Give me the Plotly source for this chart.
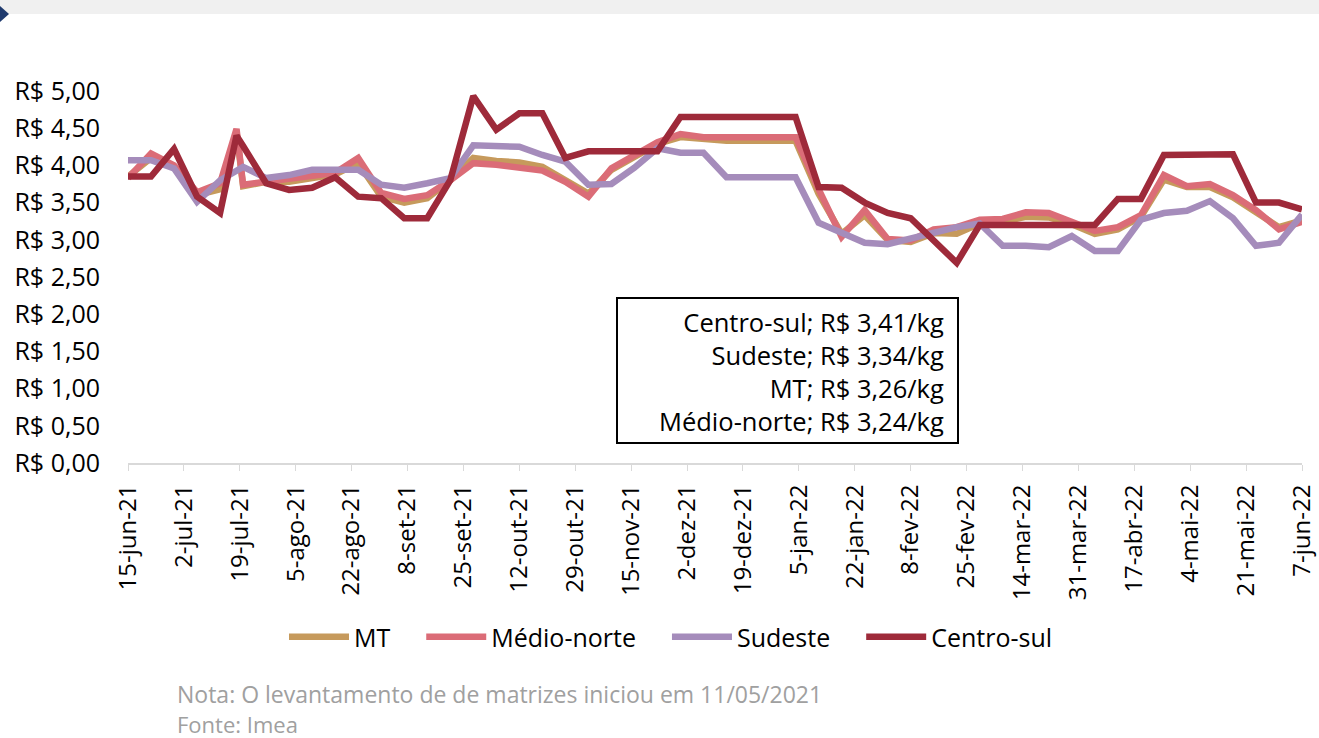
import plotly.graph_objects as go

dates = [
    "2021-06-15", "2021-06-22", "2021-06-29", "2021-07-06", "2021-07-13", "2021-07-18",
    "2021-07-20", "2021-07-27", "2021-08-03", "2021-08-10", "2021-08-17", "2021-08-24",
    "2021-08-31", "2021-09-07", "2021-09-14", "2021-09-21", "2021-09-28", "2021-10-05",
    "2021-10-12", "2021-10-19", "2021-10-26", "2021-11-02", "2021-11-09", "2021-11-16",
    "2021-11-23", "2021-11-30", "2021-12-07", "2021-12-14", "2021-12-21", "2021-12-28",
    "2022-01-04", "2022-01-11", "2022-01-18", "2022-01-25", "2022-02-01", "2022-02-08",
    "2022-02-15", "2022-02-22", "2022-03-01", "2022-03-08", "2022-03-15", "2022-03-22",
    "2022-03-29", "2022-04-05", "2022-04-12", "2022-04-19", "2022-04-26", "2022-05-03",
    "2022-05-10", "2022-05-17", "2022-05-24", "2022-05-31", "2022-06-07",
]

mt = [3.85, 4.10, 3.98, 3.60, 3.68, 4.45, 3.72, 3.78, 3.78, 3.83, 3.88, 4.03, 3.58,
      3.50, 3.56, 3.80, 4.10, 4.06, 4.04, 3.98, 3.80, 3.62, 3.94, 4.12, 4.29, 4.38,
      4.35, 4.33, 4.33, 4.33, 4.33, 3.62, 3.08, 3.33, 3.00, 2.97, 3.09, 3.08, 3.22,
      3.24, 3.31, 3.30, 3.21, 3.08, 3.14, 3.31, 3.81, 3.71, 3.71, 3.57, 3.37, 3.17, 3.26]

medio_norte = [3.83, 4.16, 4.00, 3.64, 3.76, 4.49, 3.74, 3.78, 3.80, 3.84, 3.90, 4.10, 3.63,
               3.55, 3.60, 3.80, 4.03, 4.01, 3.98, 3.93, 3.78, 3.58, 3.96, 4.14, 4.31, 4.42,
               4.38, 4.38, 4.38, 4.38, 4.38, 3.68, 3.04, 3.40, 3.01, 2.99, 3.14, 3.17, 3.27,
               3.28, 3.37, 3.36, 3.24, 3.12, 3.17, 3.33, 3.87, 3.72, 3.75, 3.60, 3.40, 3.14, 3.24]

sudeste = [4.07, 4.07, 3.96, 3.51, 3.80, 3.93, 3.98, 3.83, 3.87, 3.94, 3.95, 3.94, 3.74,
           3.70, 3.76, 3.83, 4.27, 4.25, 4.25, 4.14, 4.05, 3.74, 3.75, 3.97, 4.23, 4.17,
           4.17, 3.84, 3.84, 3.84, 3.84, 3.23, 3.09, 2.96, 2.94, 3.02, 3.09, 3.17, 3.22,
           2.92, 2.92, 2.90, 3.05, 2.85, 2.85, 3.27, 3.36, 3.39, 3.52, 3.29, 2.92, 2.96, 3.34]

centro_sul = [3.85, 3.85, 4.22, 3.58, 3.36, 4.40, 4.26, 3.76, 3.67, 3.70, 3.84, 3.58, 3.56,
              3.29, 3.29, 3.80, 4.93, 4.48, 4.70, 4.70, 4.10, 4.19, 4.19, 4.19, 4.19, 4.65,
              4.65, 4.65, 4.65, 4.65, 4.65, 3.71, 3.70, 3.50, 3.36, 3.29, 3.00, 2.69, 3.20,
              3.20, 3.20, 3.20, 3.20, 3.20, 3.55, 3.55, 4.14, 4.15, 4.15, 4.15, 3.50, 3.50, 3.41]

series_names = ["MT", "Médio-norte", "Sudeste", "Centro-sul"]
series_colors = ["#C69A5C", "#DB6C77", "#A58CBB", "#9E2A3A"]

x_tickvals = [
    "2021-06-15", "2021-07-02", "2021-07-19", "2021-08-05", "2021-08-22", "2021-09-08",
    "2021-09-25", "2021-10-12", "2021-10-29", "2021-11-15", "2021-12-02", "2021-12-19",
    "2022-01-05", "2022-01-22", "2022-02-08", "2022-02-25", "2022-03-14", "2022-03-31",
    "2022-04-17", "2022-05-04", "2022-05-21", "2022-06-07",
]
x_ticktext = [
    "15-jun-21", "2-jul-21", "19-jul-21", "5-ago-21", "22-ago-21", "8-set-21",
    "25-set-21", "12-out-21", "29-out-21", "15-nov-21", "2-dez-21", "19-dez-21",
    "5-jan-22", "22-jan-22", "8-fev-22", "25-fev-22", "14-mar-22", "31-mar-22",
    "17-abr-22", "4-mai-22", "21-mai-22", "7-jun-22",
]
y_tickvals = [0, 0.5, 1, 1.5, 2, 2.5, 3, 3.5, 4, 4.5, 5]
y_ticktext = ["R$ 0,00", "R$ 0,50", "R$ 1,00", "R$ 1,50", "R$ 2,00", "R$ 2,50",
              "R$ 3,00", "R$ 3,50", "R$ 4,00", "R$ 4,50", "R$ 5,00"]

box_lines = ["Centro-sul; R$ 3,41/kg", "Sudeste; R$ 3,34/kg",
             "MT; R$ 3,26/kg", "Médio-norte; R$ 3,24/kg"]
note_text = "Nota: O levantamento de de matrizes iniciou em 11/05/2021"
source_text = "Fonte: Imea"

FONT = "Open Sans"
PAD = "\u00a0" * 4

fig = go.Figure()
for name, ys, col in zip(series_names, [mt, medio_norte, sudeste, centro_sul], series_colors):
    fig.add_trace(go.Scatter(
        x=dates, y=ys, name=name + PAD, mode="lines",
        line=dict(color=col, width=6.5, shape="linear"),
    ))

W, H = 1319, 738
L, R, T, B = 128, 1302, 91, 463
pw, ph = R - L, B - T

def px(x):
    return (x - L) / pw

def py(y):
    return (B - y) / ph

fig.update_layout(
    width=W, height=H,
    margin=dict(l=L, r=W - R, t=T, b=H - B, autoexpand=False),
    paper_bgcolor="white", plot_bgcolor="white",
    font=dict(family=FONT, size=24, color="black"),
    showlegend=True,
    legend=dict(orientation="h", x=px(684), y=py(637), xanchor="center", yanchor="middle",
                font=dict(family=FONT, size=25, color="black"), itemwidth=60,
                bgcolor="rgba(0,0,0,0)"),
    xaxis=dict(
        type="date", range=["2021-06-15", "2022-06-07"], automargin=False,
        tickmode="array", tickvals=x_tickvals, ticktext=x_ticktext, tickangle=-90,
        ticks="outside", ticklen=6, tickcolor="#D9D9D9", tickwidth=1,
        showline=True, linecolor="#D9D9D9", linewidth=2, showgrid=False, zeroline=False,
        ticklabelstandoff=4,
        tickfont=dict(family=FONT, size=24, color="black"),
    ),
    yaxis=dict(
        range=[0, 5], tickmode="array", tickvals=y_tickvals, ticktext=y_ticktext,
        automargin=False,
        showline=False, showgrid=False, zeroline=False, ticks="",
        ticklabelstandoff=27,
        tickfont=dict(family=FONT, size=25, color="black"),
    ),
    shapes=[
        dict(type="rect", xref="paper", yref="paper",
             x0=px(0), x1=px(W), y0=py(14), y1=py(0),
             fillcolor="#F0F0F0", line=dict(width=0), layer="below"),
        dict(type="path", xref="paper", yref="paper",
             path=f"M {px(0)},{py(6)} L {px(9)},{py(14)} L {px(0)},{py(22)} Z",
             fillcolor="#1F3A6E", line=dict(width=0)),
        dict(type="rect", xref="paper", yref="paper",
             x0=px(617), x1=px(958), y0=py(443), y1=py(298),
             fillcolor="white", line=dict(color="black", width=2)),
    ],
    annotations=[
        dict(xref="paper", yref="paper", x=px(946), y=py(371), xanchor="right", yanchor="middle",
             text="<br>".join(box_lines), align="right", showarrow=False,
             font=dict(family=FONT, size=25.5, color="black")),
        dict(xref="paper", yref="paper", x=px(175), y=py(694), xanchor="left", yanchor="middle",
             text=note_text, showarrow=False, font=dict(family=FONT, size=23, color="#A0A0A0")),
        dict(xref="paper", yref="paper", x=px(175), y=py(724), xanchor="left", yanchor="middle",
             text=source_text, showarrow=False, font=dict(family=FONT, size=22, color="#A0A0A0")),
    ],
)

fig.write_html("out.html", config={"displayModeBar": False},
               post_script="document.body.style.margin='0';")
